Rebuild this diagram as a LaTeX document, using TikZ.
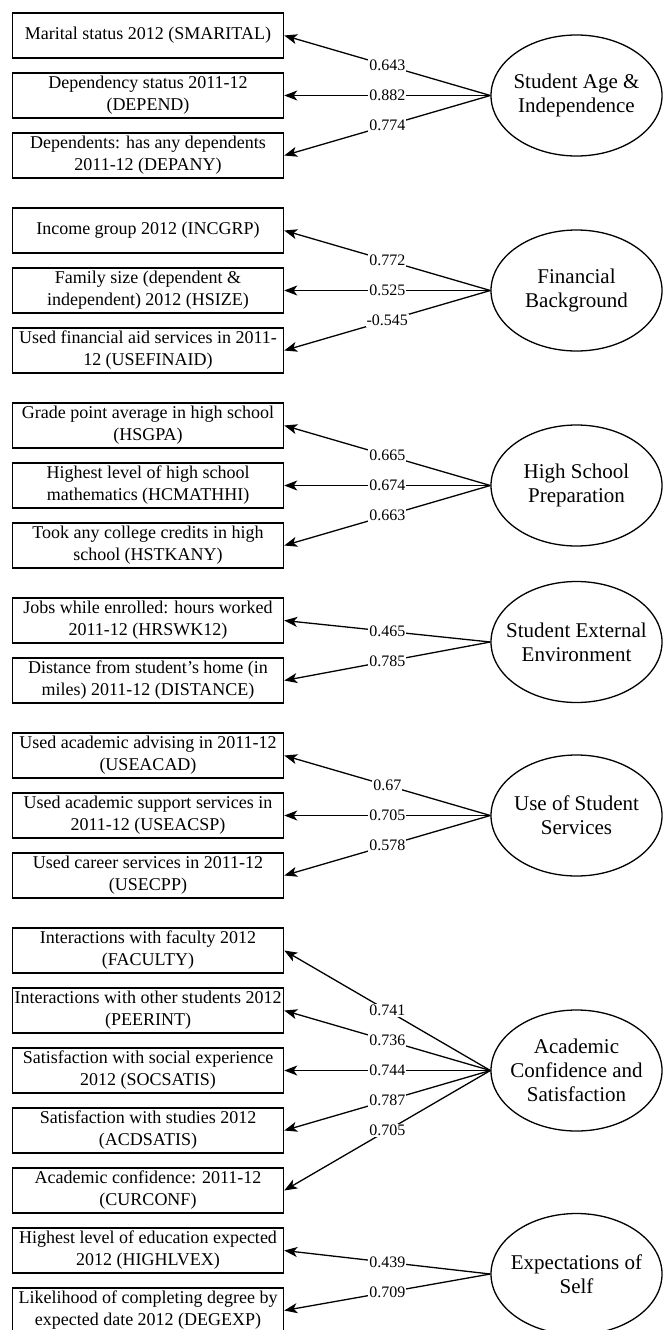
\documentclass[tikz,border=0pt]{standalone}
\usepackage{fontspec}
\setmainfont{Liberation Serif}
\usetikzlibrary{shapes.geometric,arrows.meta}
\tikzset{
  obs/.style={draw, line width=1.5pt, minimum width=271pt, minimum height=45pt, inner sep=0pt, align=center, font=\fontsize{18}{22}\selectfont},
  lat/.style={draw, ellipse, line width=1.3pt, minimum width=171pt, minimum height=121pt, inner sep=0pt},
  lattext/.style={align=center, inner sep=0pt, font=\fontsize{21}{24}\selectfont},
  arr/.style={line width=1.3pt, -{Stealth[length=13pt,width=10pt,inset=3.5pt]}},
  lbl/.style={fill=white, inner sep=1pt, font=\fontsize{16}{18}\selectfont, pos=0.5}
}
\begin{document}
\begin{tikzpicture}[x=1pt,y=-1pt]
\useasboundingbox (0,0) rectangle (665,1330);
\fill[white] (0,0) rectangle (665,1330);
\clip (0,0) rectangle (665,1330);
% Group 1
\node[obs] (b11) at (148,35.5) {Marital status 2012 (SMARITAL)};
\node[obs] (b12) at (148,95.5) {Dependency status 2011-12\\(DEPEND)};
\node[obs] (b13) at (148,155.5) {Dependents: has any dependents\\2011-12 (DEPANY)};
\node[lat] (L1) at (576.5,95.5) {};
\node[lattext] (L1t) at (L1) {Student Age \&\\Independence};
\draw[arr] (L1.west) -- node[lbl]{0.643} (b11.east);
\draw[arr] (L1.west) -- node[lbl]{0.882} (b12.east);
\draw[arr] (L1.west) -- node[lbl]{0.774} (b13.east);
% Group 2
\node[obs] (b21) at (148,230.5) {Income group 2012 (INCGRP)};
\node[obs] (b22) at (148,290.5) {Family size (dependent \&\\independent) 2012 (HSIZE)};
\node[obs] (b23) at (148,350.5) {Used financial aid services in 2011-\\12 (USEFINAID)};
\node[lat] (L2) at (576.5,290.5) {};
\node[lattext] (L2t) at (L2) {Financial\\Background};
\draw[arr] (L2.west) -- node[lbl]{0.772} (b21.east);
\draw[arr] (L2.west) -- node[lbl]{0.525} (b22.east);
\draw[arr] (L2.west) -- node[lbl]{-0.545} (b23.east);
% Group 3
\node[obs] (b31) at (148,425.5) {Grade point average in high school\\(HSGPA)};
\node[obs] (b32) at (148,485.5) {Highest level of high school\\mathematics (HCMATHHI)};
\node[obs] (b33) at (148,545.5) {Took any college credits in high\\school (HSTKANY)};
\node[lat] (L3) at (576.5,485.5) {};
\node[lattext] (L3t) at (L3) {High School\\Preparation};
\draw[arr] (L3.west) -- node[lbl]{0.665} (b31.east);
\draw[arr] (L3.west) -- node[lbl]{0.674} (b32.east);
\draw[arr] (L3.west) -- node[lbl]{0.663} (b33.east);
% Group 4
\node[obs] (b41) at (148,620.5) {Jobs while enrolled: hours worked\\2011-12 (HRSWK12)};
\node[obs] (b42) at (148,680.5) {Distance from student's home (in\\miles) 2011-12 (DISTANCE)};
\node[lat] (L4) at (576.5,642) {};
\node[lattext] (L4t) at (L4) {Student External\\Environment};
\draw[arr] (L4.west) -- node[lbl]{0.465} (b41.east);
\draw[arr] (L4.west) -- node[lbl]{0.785} (b42.east);
% Group 5
\node[obs] (b51) at (148,755.5) {Used academic advising in 2011-12\\(USEACAD)};
\node[obs] (b52) at (148,815.5) {Used academic support services in\\2011-12 (USEACSP)};
\node[obs] (b53) at (148,875.5) {Used career services in 2011-12\\(USECPP)};
\node[lat] (L5) at (576.5,815.5) {};
\node[lattext] (L5t) at (L5) {Use of Student\\Services};
\draw[arr] (L5.west) -- node[lbl]{0.67} (b51.east);
\draw[arr] (L5.west) -- node[lbl]{0.705} (b52.east);
\draw[arr] (L5.west) -- node[lbl]{0.578} (b53.east);
% Group 6
\node[obs] (b61) at (148,950.5) {Interactions with faculty 2012\\(FACULTY)};
\node[obs] (b62) at (148,1010.5) {Interactions with other students 2012\\(PEERINT)};
\node[obs] (b63) at (148,1070.5) {Satisfaction with social experience\\2012 (SOCSATIS)};
\node[obs] (b64) at (148,1130.5) {Satisfaction with studies 2012\\(ACDSATIS)};
\node[obs] (b65) at (148,1190.5) {Academic confidence: 2011-12\\(CURCONF)};
\node[lat] (L6) at (576.5,1070.5) {};
\node[lattext] (L6t) at (L6) {Academic\\Confidence and\\Satisfaction};
\draw[arr] (L6.west) -- node[lbl]{0.741} (b61.east);
\draw[arr] (L6.west) -- node[lbl]{0.736} (b62.east);
\draw[arr] (L6.west) -- node[lbl]{0.744} (b63.east);
\draw[arr] (L6.west) -- node[lbl]{0.787} (b64.east);
\draw[arr] (L6.west) -- node[lbl]{0.705} (b65.east);
% Group 7
\node[obs] (b71) at (148,1250.5) {Highest level of education expected\\2012 (HIGHLVEX)};
\node[obs] (b72) at (148,1310.5) {Likelihood of completing degree by\\expected date 2012 (DEGEXP)};
\node[lat] (L7) at (576.5,1274) {};
\node[lattext] (L7t) at (L7) {Expectations of\\Self};
\draw[arr] (L7.west) -- node[lbl]{0.439} (b71.east);
\draw[arr] (L7.west) -- node[lbl]{0.709} (b72.east);
\end{tikzpicture}
\end{document}
